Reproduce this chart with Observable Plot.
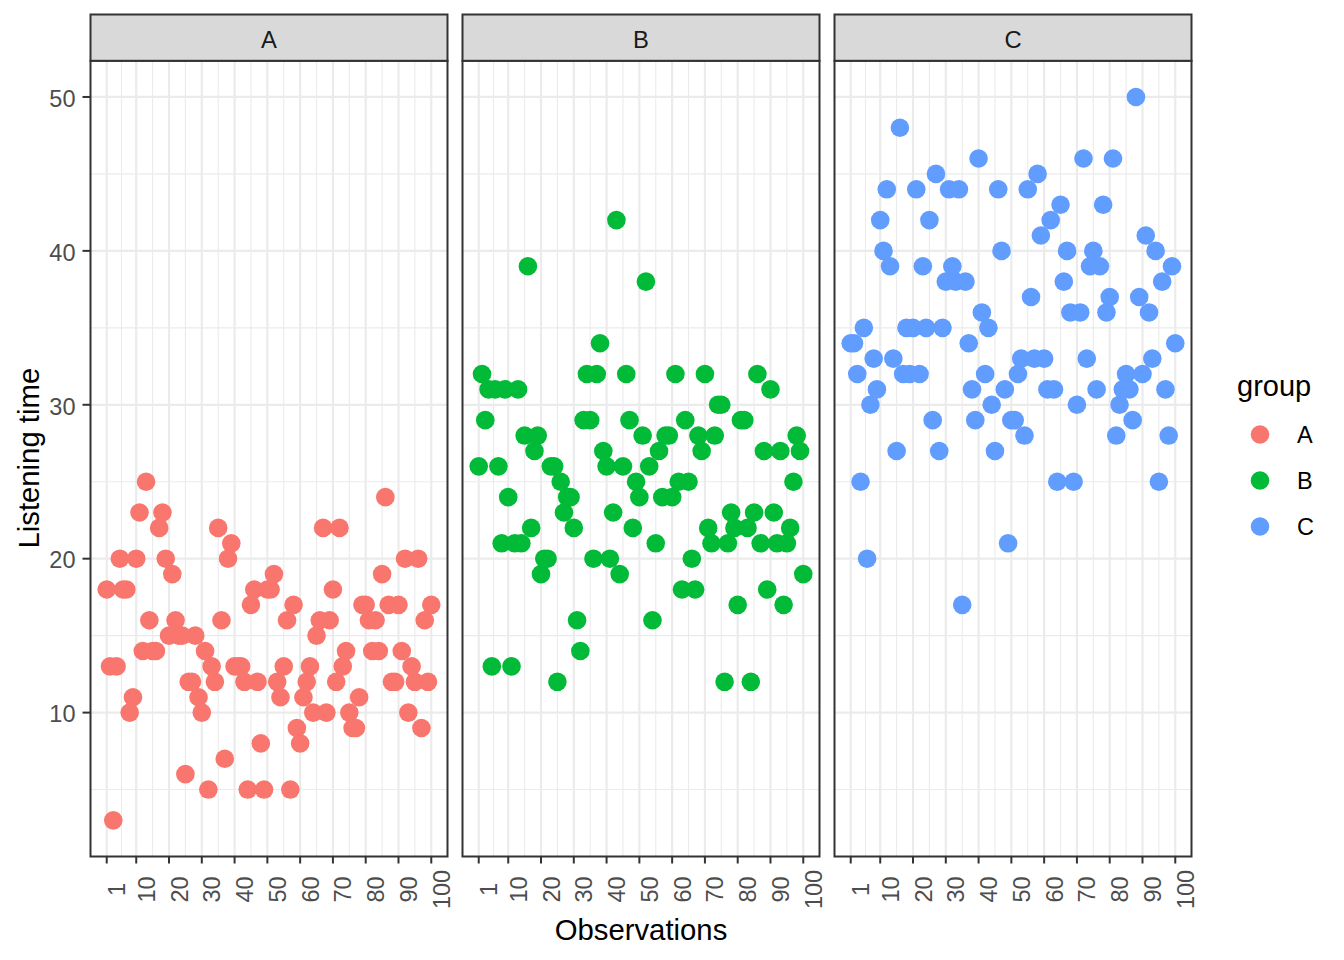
<!DOCTYPE html>
<html><head><meta charset="utf-8">
<script src="https://cdn.jsdelivr.net/npm/d3@7"></script>
<script src="https://cdn.jsdelivr.net/npm/@observablehq/plot@0.6"></script>
<style>body{margin:0;background:#fff} #chart{width:1344px;height:960px;}</style>
</head><body><div id="chart"></div>
<script>
const groups = ["A", "B", "C"];
const colors = ["#F8766D", "#00BA38", "#619CFF"];
const valuesA = [18,13,3,13,20,18,18,10,11,20, 23,14,25,16,14,14,22,23,20,15, 19,16,15,15,6,12,12,15,11,10,
  14,5,13,12,22,16,7,20,21,13, 13,13,12,5,17,18,12,8,5,18, 18,19,12,11,13,16,5,17,9,8,
  11,12,13,10,15,16,22,10,16,18, 12,22,13,14,10,9,9,11,17,17, 16,14,16,14,19,24,17,12,12,17,
  14,20,10,13,12,20,9,16,12,17];
const valuesB = [26,32,29,31,13,31,26,21,31,24, 13,21,31,21,28,39,22,27,28,19, 20,20,26,26,12,25,23,24,24,22,
  16,14,29,32,29,20,32,34,27,26, 20,23,42,19,26,32,29,22,25,24, 28,38,26,16,21,27,24,28,28,24,
  32,25,18,29,25,20,18,28,27,32, 22,21,28,30,30,12,21,23,22,17, 29,29,22,12,23,32,21,27,18,31,
  23,21,27,17,21,22,25,28,27,19];
const valuesC = [34,34,32,25,35,20,30,33,31,42, 40,44,39,33,27,48,32,35,32,35, 44,32,39,35,42,29,45,27,35,38,
  44,39,38,44,17,38,34,31,29,46, 36,32,35,30,27,44,40,31,21,29, 29,32,33,28,44,37,33,45,41,33,
  31,42,31,25,43,38,40,36,25,30, 36,46,33,39,40,31,39,43,36,37, 46,28,30,31,32,31,29,50,37,32,
  41,36,33,40,25,38,31,28,39,34];
const xTicks = [1, 10, 20, 30, 40, 50, 60, 70, 80, 90, 100];
const xMinor = [5.5, 15, 25, 35, 45, 55, 65, 75, 85, 95];
const yTicks = [10, 20, 30, 40, 50];
const yMinor = [5, 15, 25, 35, 45];

const series = {A: valuesA, B: valuesB, C: valuesC};
const data = groups.flatMap(g => series[g].map((v, i) => ({group: g, obs: i + 1, value: v})));

const W = 1344, H = 960, mL = 89.3, mR = 151.3, mT = 60.3, mB = 104;
const font = "'Liberation Sans', Arial, Helvetica, sans-serif";
const panelH = H - mT - mB;

const plot = Plot.plot({
  width: W, height: H, marginLeft: mL, marginRight: mR, marginTop: mT, marginBottom: mB,
  style: {fontFamily: font, fontSize: "23.5px", background: "#fff", color: "#333", overflow: "visible"},
  fx: {domain: groups, paddingInner: 0.0402, paddingOuter: 0, axis: null, label: null},
  x: {domain: [-3.95, 104.95], axis: null},
  y: {domain: [0.65, 52.35], axis: null},
  color: {domain: groups, range: colors},
  marks: [
    Plot.ruleX(xMinor, {x: d => d, stroke: "#ebebeb", strokeWidth: 1.1}),
    Plot.ruleY(yMinor, {y: d => d, stroke: "#ebebeb", strokeWidth: 1.1}),
    Plot.ruleX(xTicks, {x: d => d, stroke: "#ebebeb", strokeWidth: 2.2}),
    Plot.ruleY(yTicks, {y: d => d, stroke: "#ebebeb", strokeWidth: 2.2}),
    Plot.dot(data, {fx: "group", x: "obs", y: "value", fill: "group", r: 9.3}),
    Plot.frame({stroke: "#333", strokeWidth: 2}),
    Plot.frame({fill: "#d9d9d9", stroke: "#333", strokeWidth: 2, insetTop: -46.3, insetBottom: panelH}),
    Plot.text(groups, {fx: d => d, text: d => d, frameAnchor: "top", dy: -13, lineAnchor: "bottom", fontSize: 23.8, fill: "#1a1a1a"}),
    Plot.axisX({ticks: xTicks, tickSize: 7.5, tickFormat: () => "", stroke: "#333", strokeWidth: 2, label: null}),
    Plot.text(xTicks, {x: d => d, text: d => String(d), frameAnchor: "bottom", rotate: -90, dx: 18.5, dy: 33, textAnchor: "middle", lineAnchor: "bottom", fontSize: 23.5, fill: "#4d4d4d"}),
    Plot.axisY({ticks: yTicks, tickSize: 7.5, tickFormat: () => "", stroke: "#333", strokeWidth: 2, label: null, facetAnchor: "left"}),
    Plot.text(yTicks, {fx: () => "A", y: d => d, text: d => String(d), frameAnchor: "left", dx: -15, dy: 9.8, textAnchor: "end", lineAnchor: "bottom", fontSize: 23.5, fill: "#4d4d4d"})
  ]
});

const svg = d3.select(plot);
svg.append("text").attr("transform", "translate(38.5,458.2) rotate(-90)")
  .attr("text-anchor", "middle").attr("font-size", 29.3).attr("fill", "#000").attr("font-family", font)
  .text("Listening time");
svg.append("text").attr("x", 641).attr("y", 940)
  .attr("text-anchor", "middle").attr("font-size", 29.3).attr("fill", "#000").attr("font-family", font)
  .text("Observations");
const lg = svg.append("g").attr("font-family", font).attr("text-anchor", "start");
lg.append("text").attr("x", 1237).attr("y", 396).attr("font-size", 29).attr("fill", "#000").attr("text-anchor", "start").text("group");
groups.forEach((g, i) => {
  const cy = 434.5 + i * 46;
  lg.append("circle").attr("cx", 1260).attr("cy", cy).attr("r", 9.3).attr("fill", colors[i]);
  lg.append("text").attr("x", 1297).attr("y", cy + 8.4).attr("font-size", 23.5).attr("fill", "#000").attr("text-anchor", "start").text(g);
});
document.getElementById("chart").appendChild(plot);
</script>
</body></html>
